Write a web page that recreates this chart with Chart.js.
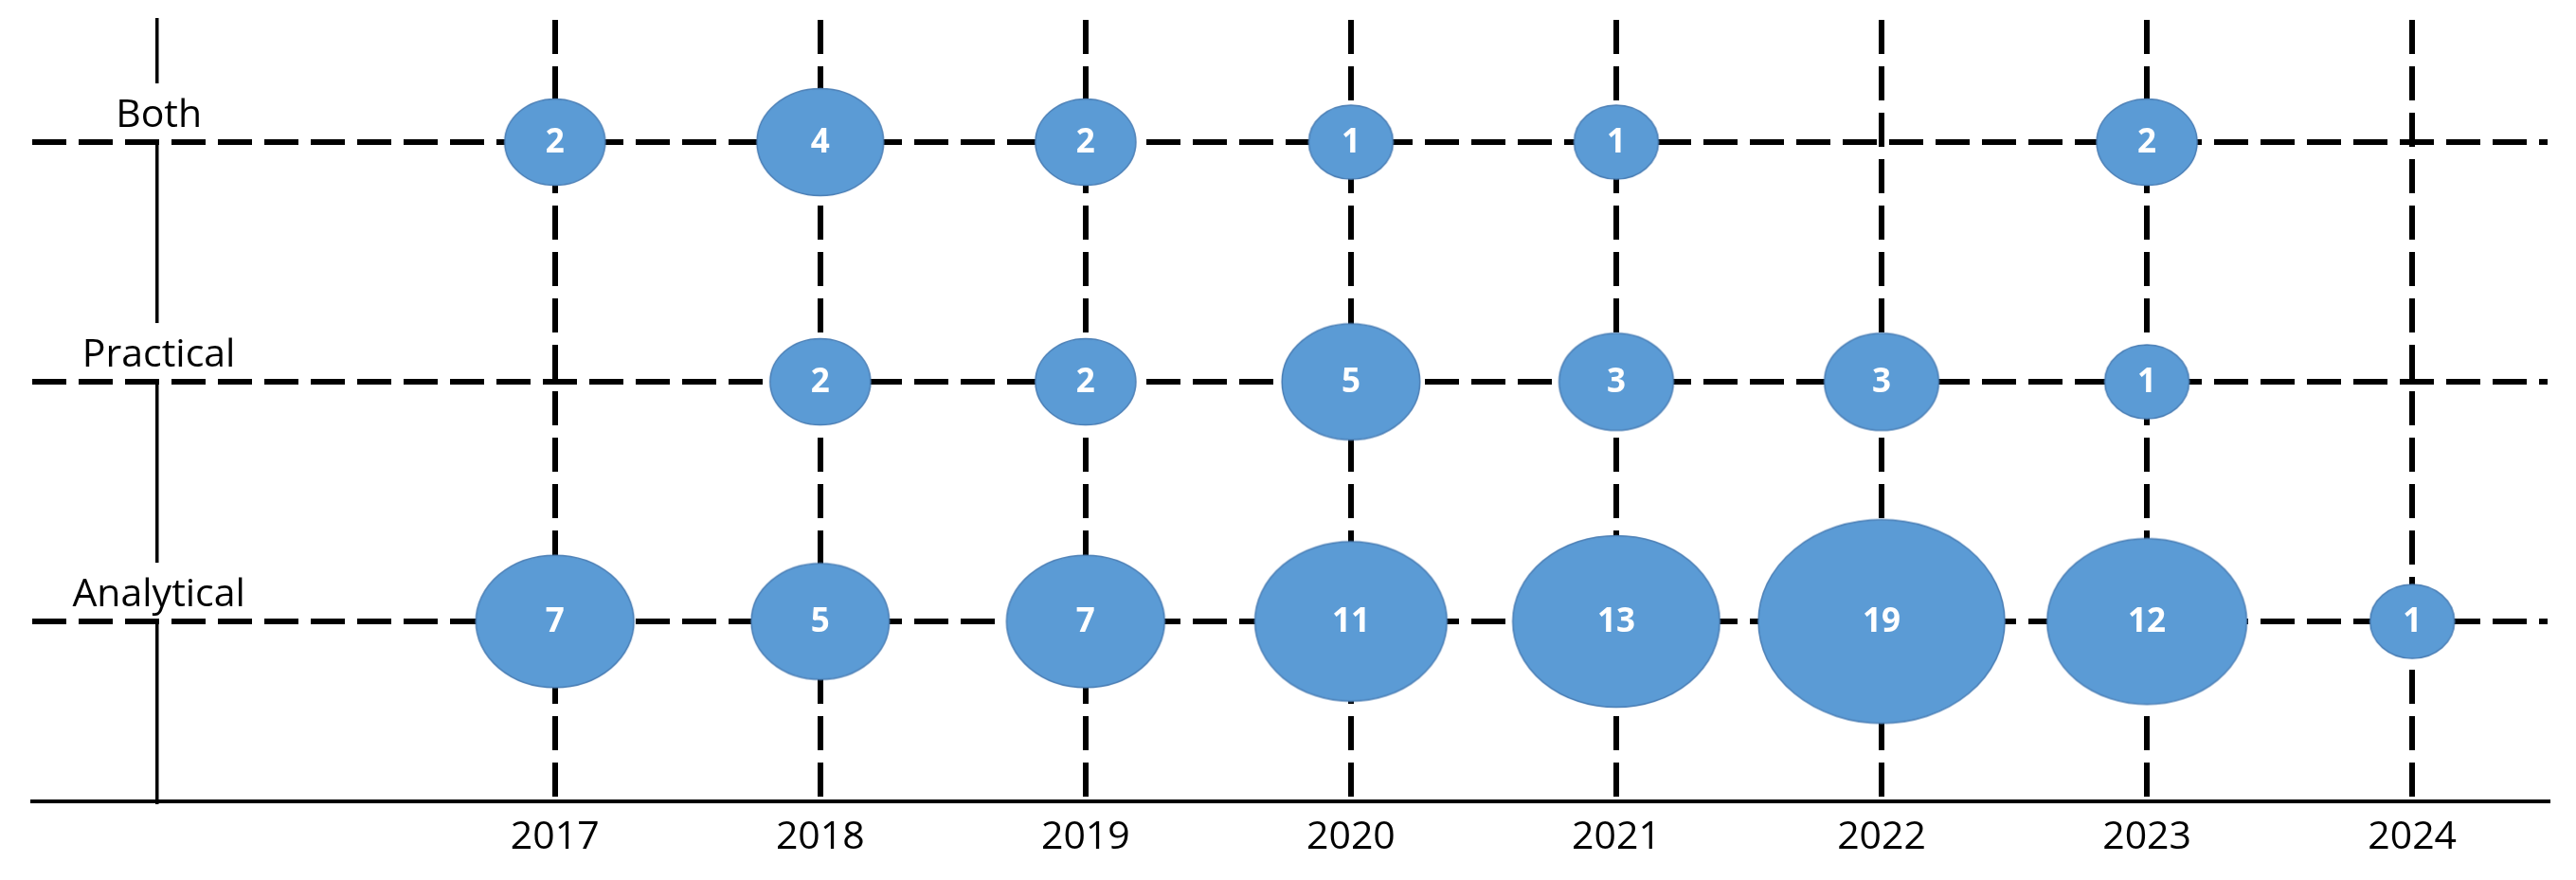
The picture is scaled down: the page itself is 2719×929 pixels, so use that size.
<!DOCTYPE html>
<html>
<head>
<meta charset="utf-8">
<script src="https://cdn.jsdelivr.net/npm/chart.js@4"></script>
<style>
  html, body { margin: 0; padding: 0; background: #fff; }
  #wrap { width: 2719px; height: 929px; }
</style>
</head>
<body>
<div id="wrap"><canvas id="myChart"></canvas></div>
<script>
// data
var years = [2017, 2018, 2019, 2020, 2021, 2022, 2023, 2024];
var categories = ['Analytical', 'Practical', 'Both'];   // rows 1, 2, 3
var analytical = [7, 5, 7, 11, 13, 19, 12, 1];
var practical = [null, 2, 2, 5, 3, 3, 1, null];
var both = [2, 4, 2, 1, 1, null, 2, null];

var axisCrossX = 2015.5;   // where the vertical axis crosses

// bubble width/height grow with the count (area-like)
function bubbleW(v) { return Math.sqrt(4606 + 3315 * v); }
function bubbleH(v) { return Math.sqrt(3854 + 2230 * v); }

var bubbleCache = {};
function bubbleImage(v) {
  if (bubbleCache[v]) return bubbleCache[v];
  var w = bubbleW(v), h = bubbleH(v);
  var c = document.createElement('canvas');
  c.width = Math.ceil(w) + 4;
  c.height = Math.ceil(h) + 4;
  var g = c.getContext('2d');
  g.beginPath();
  g.ellipse(c.width / 2, c.height / 2, w / 2, h / 2, 0, 0, Math.PI * 2);
  g.fillStyle = '#5B9BD5';
  g.fill();
  g.lineWidth = 1.5;
  g.strokeStyle = '#4A7EB5';
  g.stroke();
  bubbleCache[v] = c;
  return c;
}

function toPoints(values, row) {
  var pts = [];
  years.forEach(function (yr, i) {
    if (values[i] != null) pts.push({x: yr, y: row, r: bubbleW(values[i]) / 2, v: values[i]});
  });
  return pts;
}

function makeSet(label, values, row) {
  return {
    label: label,
    data: toPoints(values, row),
    backgroundColor: '#5B9BD5',
    borderWidth: 0,
    clip: false,
    pointStyle: function (c) { return c.raw ? bubbleImage(c.raw.v) : 'circle'; }
  };
}

var rowLabels = {
  id: 'rowLabels',
  beforeDatasetsDraw: function (chart) {
    var ctx = chart.ctx, xs = chart.scales.x, ys = chart.scales.y;
    var cx = xs.getPixelForValue(axisCrossX) + 2;
    ctx.save();
    ctx.font = '41px "Open Sans"';
    ctx.textAlign = 'center';
    ctx.textBaseline = 'alphabetic';
    categories.forEach(function (name, i) {
      var ly = ys.getPixelForValue(i + 1);
      var base = ly - 16;
      var tw = ctx.measureText(name).width;
      ctx.fillStyle = '#fff';
      ctx.fillRect(cx - tw / 2 - 8, base - 46, tw + 16, ly - 3 - (base - 46));
      ctx.fillStyle = '#000';
      ctx.fillText(name, cx, base);
    });
    ctx.restore();
  }
};

var bubbleValues = {
  id: 'bubbleValues',
  afterDatasetsDraw: function (chart) {
    var ctx = chart.ctx;
    ctx.save();
    ctx.font = 'bold 35px "Open Sans"';
    ctx.fillStyle = '#fff';
    ctx.textAlign = 'center';
    ctx.textBaseline = 'middle';
    chart.data.datasets.forEach(function (ds, d) {
      chart.getDatasetMeta(d).data.forEach(function (el, i) {
        ctx.fillText(String(ds.data[i].v), el.x, el.y + 1);
      });
    });
    ctx.restore();
  }
};

Chart.defaults.font.family = '"Open Sans", sans-serif';
Chart.defaults.color = '#000';

var ctx = document.getElementById('myChart').getContext('2d');
var myChart = new Chart(ctx, {
  type: 'bubble',
  data: {
    datasets: [
      makeSet('Analytical', analytical, 1),
      makeSet('Practical', practical, 2),
      makeSet('Both', both, 3)
    ]
  },
  plugins: [rowLabels, bubbleValues],
  options: {
    responsive: true,
    maintainAspectRatio: false,
    animation: false,
    events: [],
    layout: {
      autoPadding: false,
      padding: {left: 34, right: 30, top: 21, bottom: 6}
    },
    plugins: {
      legend: {display: false},
      tooltip: {enabled: false}
    },
    scales: {
      x: {
        type: 'linear',
        min: 2015.03,
        max: 2024.51,
        afterBuildTicks: function (s) { s.ticks = years.map(function (y) { return {value: y}; }); },
        ticks: {
          font: {size: 41},
          color: '#000',
          padding: 14,
          maxRotation: 0,
          autoSkip: false,
          callback: function (v) { return String(v); }
        },
        grid: {color: '#000', lineWidth: 6, drawTicks: false},
        border: {display: true, color: '#000', width: 4, dash: [36, 13]}
      },
      y: {
        type: 'linear',
        min: 0.25,
        max: 3.51,
        position: {x: axisCrossX},
        afterBuildTicks: function (s) { s.ticks = categories.map(function (c, i) { return {value: i + 1}; }); },
        ticks: {display: false},
        grid: {color: '#000', lineWidth: 6, drawTicks: false},
        border: {display: true, color: '#000', width: 3.5, dash: [36, 13]}
      }
    }
  }
});
</script>
</body>
</html>
